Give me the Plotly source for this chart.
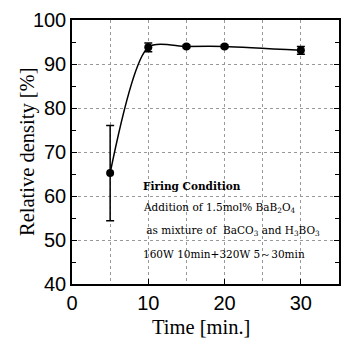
import plotly.graph_objects as go

time = [5, 10, 15, 20, 30]
density = [65.2, 93.8, 94.0, 94.0, 93.1]
err = [10.8, 1.0, 0.3, 0.3, 0.9]

x_ticks = [0, 10, 20, 30]
y_ticks = [40, 50, 60, 70, 80, 90, 100]

x_title = "Time [min.]"
y_title = "Relative density [%]"

notes = [
    "<b>Firing Condition</b>",
    "Addition of 1.5mol% BaB<sub>2</sub>O<sub>4</sub>",
    " as mixture of  BaCO<sub>3</sub> and H<sub>3</sub>BO<sub>3</sub>",
    "160W 10min+320W 5～30min",
]

SERIF = "Liberation Serif"
SANS = "Liberation Sans"

fig = go.Figure()
fig.add_trace(go.Scatter(
    x=time, y=density,
    mode="lines+markers",
    line=dict(color="black", width=1.5, shape="spline", smoothing=0.75),
    marker=dict(color="black", size=8),
    error_y=dict(type="data", array=err, color="black", thickness=1.5, width=4),
    showlegend=False,
))

for i, t in enumerate(notes):
    fig.add_annotation(
        x=0, xref="paper", xanchor="left", xshift=69,
        y=0.372 - i * 0.0855, yref="paper", yanchor="middle",
        text=t, showarrow=False, align="left",
        font=dict(family="DejaVu Serif", size=10.5, color="black"),
    )

# axis titles
fig.add_annotation(
    x=0.5, xref="paper", xanchor="center", xshift=-5,
    y=0, yref="paper", yanchor="middle", yshift=-43,
    text=x_title, showarrow=False,
    font=dict(family=SERIF, size=20.5, color="black"),
)
fig.add_annotation(
    x=0, xref="paper", xanchor="center", xshift=-45,
    y=0.5, yref="paper", yanchor="middle",
    text=y_title, showarrow=False, textangle=-90,
    font=dict(family=SERIF, size=20.5, color="black"),
)

axis_common = dict(
    showline=True, linecolor="black", linewidth=1.5,
    ticks="inside", ticklen=5, tickwidth=1.2, tickcolor="black",
    tickfont=dict(family=SANS, size=20, color="black"),
    showgrid=True, gridcolor="#999999", griddash="dot", gridwidth=1,
    zeroline=False,
)

fig.update_xaxes(
    range=[0, 35], tickvals=x_ticks, mirror=True,
    minor=dict(dtick=5, showgrid=True, gridcolor="#999999", griddash="dot", ticks=""),
    **axis_common,
)
fig.update_yaxes(
    range=[40, 100], tickvals=y_ticks, mirror="ticks",
    minor=dict(dtick=5, ticks="inside", ticklen=4, tickcolor="black", showgrid=False),
    **axis_common,
)

fig.update_layout(
    width=350, height=344,
    margin=dict(l=72, r=9, t=15, b=60),
    plot_bgcolor="white", paper_bgcolor="white",
)

fig.write_html("out.html")
